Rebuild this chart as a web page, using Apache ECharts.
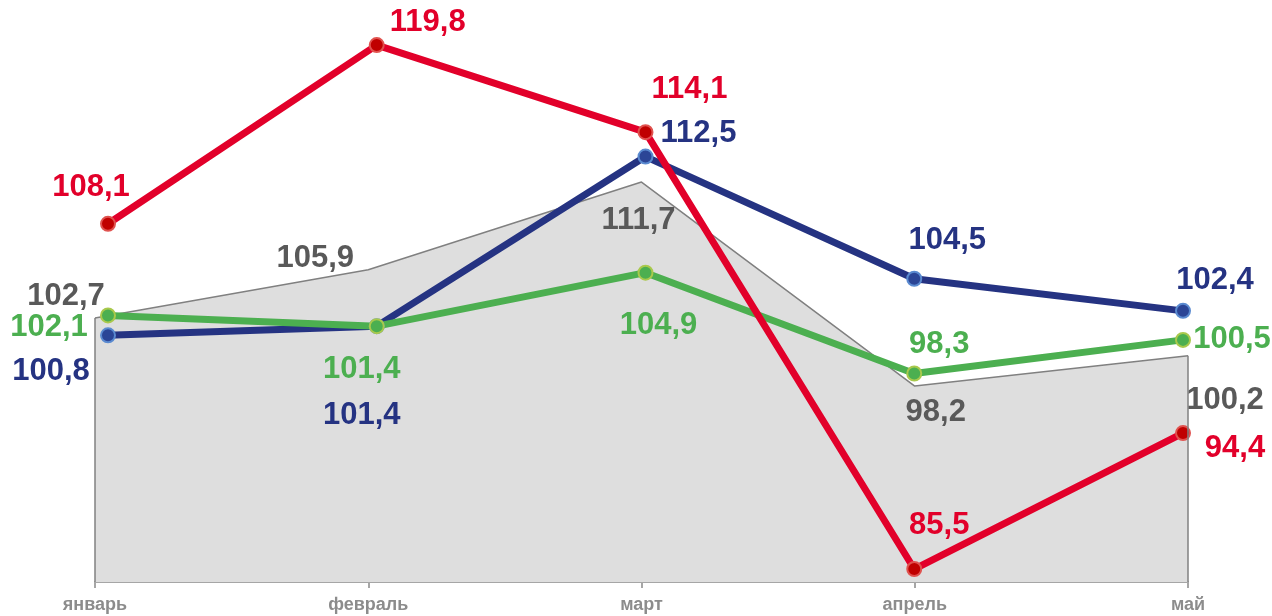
<!DOCTYPE html>
<html>
<head>
<meta charset="utf-8">
<script src="https://cdn.jsdelivr.net/npm/echarts@6/dist/echarts.min.js"></script>
<style>
  html, body { margin: 0; padding: 0; background: #fff; }
  #chart { width: 1272px; height: 616px; }
</style>
</head>
<body>
<div id="chart"></div>
<script>
// месяцы
const months = ['январь', 'февраль', 'март', 'апрель', 'май']

// серая область (на своей оси)
const grayValues = [102.7, 105.9, 111.7, 98.2, 100.2]
// линии
const blueValues = [100.8, 101.4, 112.5, 104.5, 102.4]
const greenValues = [102.1, 101.4, 104.9, 98.3, 100.5]
const redValues = [108.1, 119.8, 114.1, 85.5, 94.4]

// смещения подписей от точки, px
const grayOffsets = [[-29, -22], [-53, -11], [-3, 38], [21, 26], [37, 45]]
const blueOffsets = [[-57, 36], [-15, 89], [53, -23], [33, -38], [32, -30]]
const greenOffsets = [[-59, 12], [-15, 43], [13, 53], [25, -29], [49, 0]]
const redOffsets = [[-17, -36], [51, -23], [44, -43], [25, -44], [52, 15]]

const grayMin = 85.23
const grayMax = 123.75
const lineMin = 84.65
const lineMax = 122.75

const fmt = p => p.value.toFixed(1).replace('.', ',')

const withOffsets = (values, offsets) =>
  values.map((v, i) => ({ value: v, label: { offset: offsets[i] } }))

const labelStyle = color => ({
  show: true,
  position: 'inside',
  align: 'center',
  verticalAlign: 'middle',
  formatter: fmt,
  color: color,
  fontFamily: 'Liberation Sans, Arial, sans-serif',
  fontWeight: 'bold',
  fontSize: 31
})

const lineSeries = (name, values, offsets, lineColor, dotColor, dotBorder, labelColor) => ({
  name: name,
  type: 'line',
  xAxisIndex: 1,
  yAxisIndex: 1,
  data: withOffsets(values, offsets),
  symbol: 'circle',
  symbolSize: 14,
  showAllSymbol: true,
  lineStyle: { color: lineColor, width: 7 },
  itemStyle: { color: dotColor, borderColor: dotBorder, borderWidth: 2 },
  label: labelStyle(labelColor),
  z: 3
})

const chart = echarts.init(document.getElementById('chart'))

const option = {
  animation: false,
  backgroundColor: '#fff',
  grid: [
    { left: 95, right: 84, top: 0, bottom: 34 },
    { left: 108, right: 89, top: 0, bottom: 34 }
  ],
  xAxis: [
    {
      type: 'category',
      gridIndex: 0,
      data: months,
      boundaryGap: false,
      axisLine: { lineStyle: { color: '#a6a6a6', width: 2 } },
      axisTick: { show: true, length: 6, lineStyle: { color: '#a6a6a6', width: 2 } },
      axisLabel: {
        color: '#8c8c8c',
        fontFamily: 'Liberation Sans, Arial, sans-serif',
        fontWeight: 'bold',
        fontSize: 18,
        margin: 14
      },
      splitLine: { show: false }
    },
    {
      type: 'category',
      gridIndex: 1,
      data: months,
      boundaryGap: false,
      show: false
    }
  ],
  yAxis: [
    { type: 'value', gridIndex: 0, min: grayMin, max: grayMax, show: false, splitLine: { show: false } },
    { type: 'value', gridIndex: 1, min: lineMin, max: lineMax, show: false, splitLine: { show: false } }
  ],
  series: [
    {
      name: 'gray',
      type: 'line',
      xAxisIndex: 0,
      yAxisIndex: 0,
      data: withOffsets(grayValues, grayOffsets),
      symbol: 'circle',
      symbolSize: 1,
      showAllSymbol: true,
      itemStyle: { color: 'rgba(0,0,0,0)', borderWidth: 0 },
      lineStyle: { color: '#808080', width: 1.5 },
      areaStyle: { color: '#dedede', opacity: 1 },
      label: labelStyle('#595959'),
      markLine: {
        silent: true,
        symbol: 'none',
        label: { show: false },
        lineStyle: { color: '#808080', width: 1.5, type: 'solid' },
        data: [
          [{ coord: [months[0], grayMin] }, { coord: [months[0], grayValues[0]] }],
          [{ coord: [months[4], grayMin] }, { coord: [months[4], grayValues[4]] }]
        ]
      },
      z: 1
    },
    lineSeries('blue', blueValues, blueOffsets, '#253382', '#2b4596', '#5a8ad0', '#253382'),
    lineSeries('green', greenValues, greenOffsets, '#4caf50', '#4caf50', '#a9c94c', '#4caf50'),
    lineSeries('red', redValues, redOffsets, '#e2002a', '#c00000', '#e0524f', '#e2002a')
  ]
}

chart.setOption(option)
</script>
</body>
</html>
